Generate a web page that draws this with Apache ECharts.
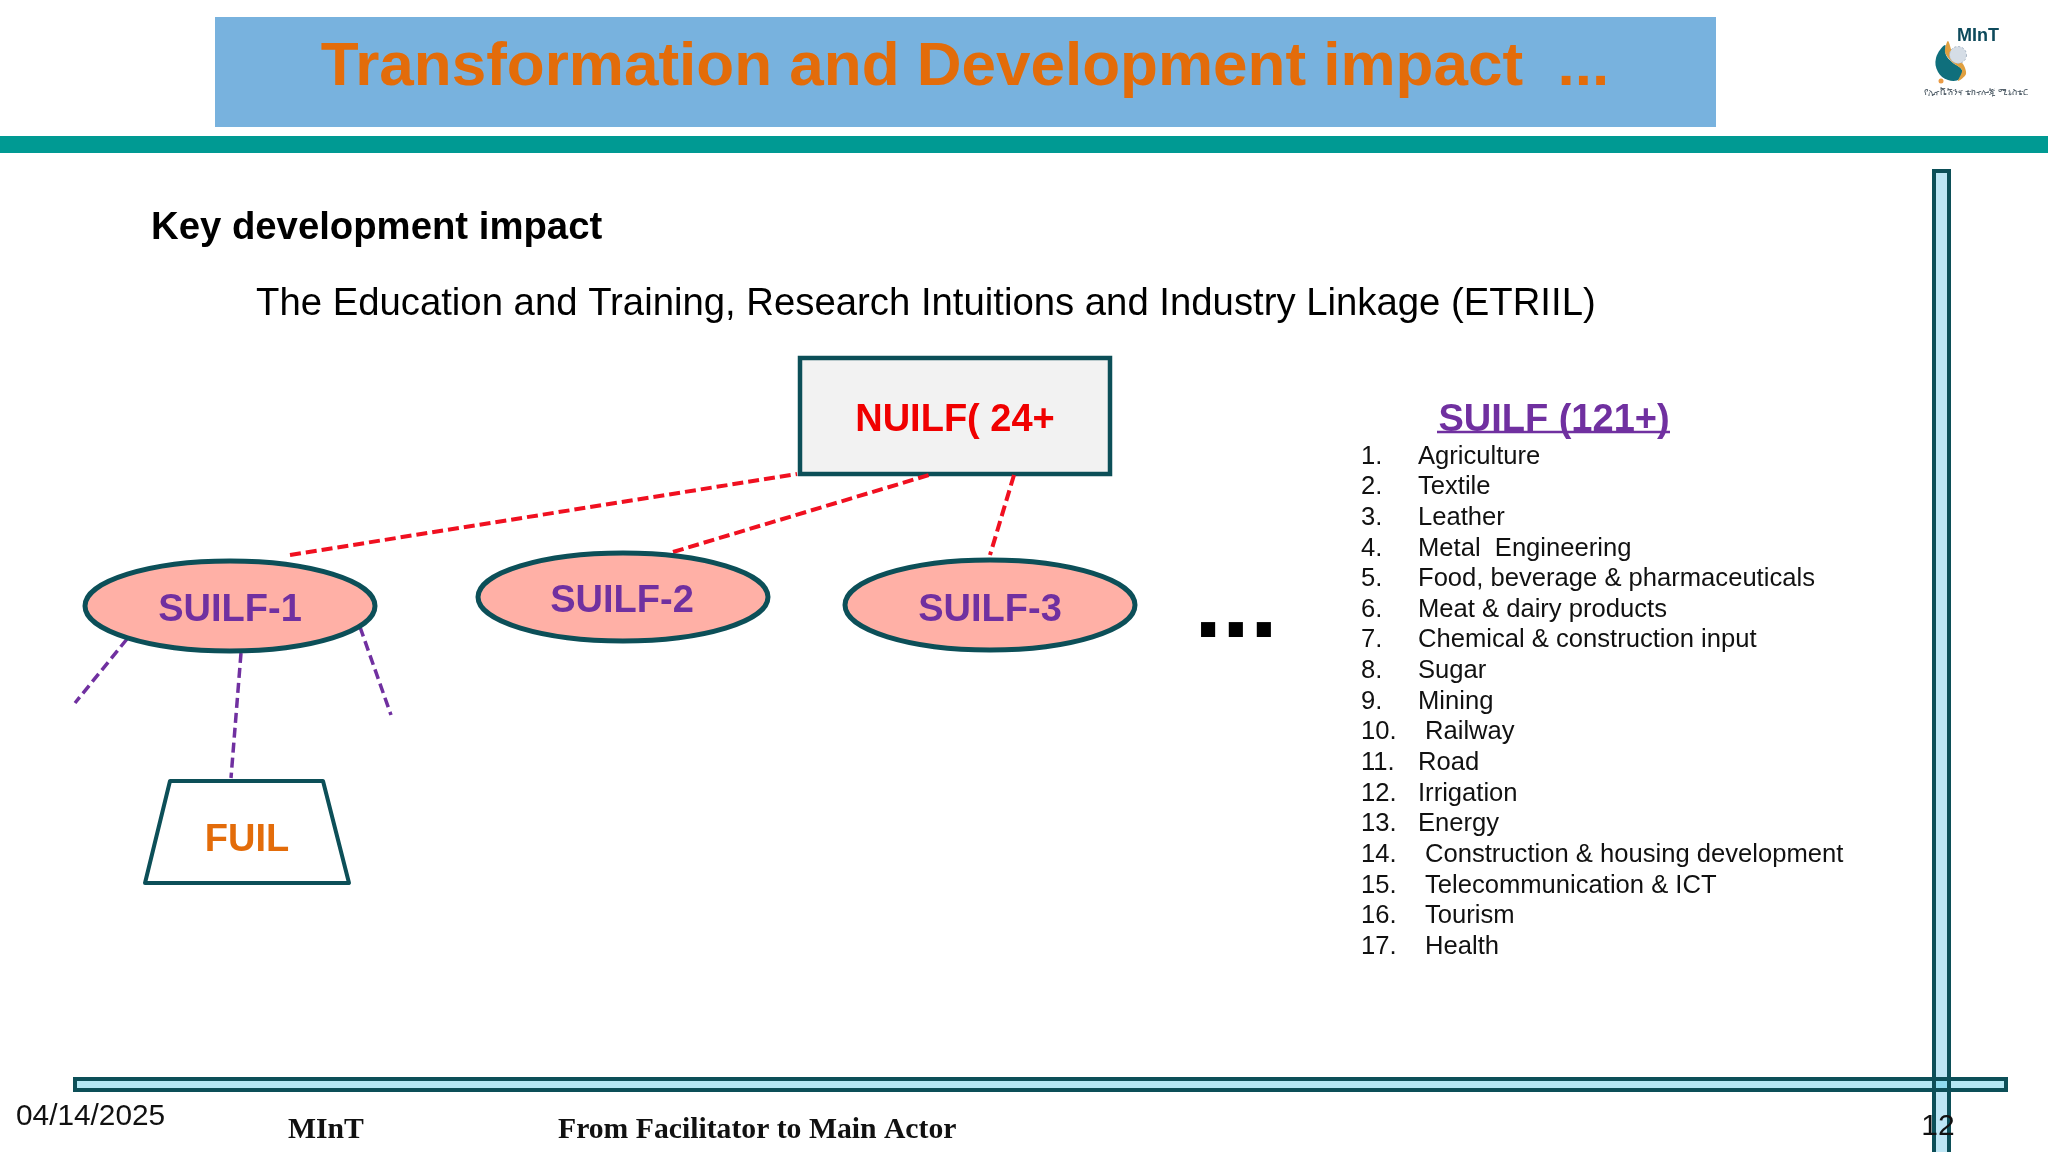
<!DOCTYPE html>
<html>
<head>
<meta charset="utf-8">
<style>html,body{margin:0;padding:0;background:#fff}#main{width:2048px;height:1152px}</style>
<script src="https://cdn.jsdelivr.net/npm/echarts@6/dist/echarts.min.js"></script>
</head>
<body>
<div id="main"></div>
<script>
// text content
var slideTitle = 'Transformation and Development impact  ...';
var sectionTitle = 'Key development impact';
var subTitle = 'The Education and Training, Research Intuitions and Industry Linkage (ETRIIL)';
var topNode = 'NUILF( 24+';
var suilfNodes = ['SUILF-1', 'SUILF-2', 'SUILF-3'];
var fuilNode = 'FUIL';
var listTitle = 'SUILF (121+)';
var industries = ['Agriculture', 'Textile', 'Leather', 'Metal  Engineering', 'Food, beverage & pharmaceuticals',
  'Meat & dairy products', 'Chemical & construction input', 'Sugar', 'Mining', 'Railway', 'Road', 'Irrigation',
  'Energy', 'Construction & housing development', 'Telecommunication & ICT', 'Tourism', 'Health'];
var indentedRows = [10, 14, 15, 16, 17];
var footerDate = '04/14/2025';
var footerOrg = 'MInT';
var footerMotto = 'From Facilitator to Main Actor';
var pageNumber = '12';
var logoCaption = 'የኢኖቬሽንና ቴክኖሎጂ ሚኒስቴር';

var TEAL = '#0c4f58';
var ORANGE = '#e36c0a';
var PURPLE = '#7030a0';
var RED = '#f01020';
var SANS = '"Liberation Sans", Arial, sans-serif';
var SERIF = '"Liberation Serif", "Times New Roman", serif';

// [x, y, width, height, fill, stroke, strokeWidth]
var boxes = [
  [215, 17, 1501, 110, '#78b2de', null, 0],
  [0, 136, 2048, 17, '#009a93', null, 0],
  [1934, 171, 15, 990, '#bde6f5', TEAL, 4],
  [75, 1079, 1931, 11, '#b4e8f5', TEAL, 4],
  // where the two bars cross, both outlines show
  [1936, 1081, 11, 7, '#8edcf0', null, 0],
  [1932, 1077, 4, 15, TEAL, null, 0],
  [1947, 1077, 4, 15, TEAL, null, 0],
  [800, 358, 310, 116, '#f2f2f2', TEAL, 4.5]
];
// [cx, cy, rx, ry]
var ellipses = [[230, 606, 145, 45], [623, 597, 145, 44], [990, 605, 145, 45]];
// [x1, y1, x2, y2, colour, width, dash]
var links = [
  [290, 555, 797, 474, RED, 4, [11, 5]],
  [673, 552, 929, 475, RED, 4, [11, 5]],
  [1014, 475, 990, 555, RED, 4, [11, 5]],
  [127, 639, 75, 703, PURPLE, 3.5, [10, 5]],
  [241, 653, 231, 778, PURPLE, 3.5, [10, 5]],
  [360, 627, 391, 715, PURPLE, 3.5, [10, 5]]
];
var trapezoid = [[170, 781], [323, 781], [349, 883], [145, 883]];

// x, y, string, colour, font, align
var labels = [
  [965, 68, slideTitle, ORANGE, 'bold 62px ' + SANS, 'center'],
  [151, 228, sectionTitle, '#000', 'bold 38.3px ' + SANS, 'left'],
  [256, 304, subTitle, '#000', '38.3px ' + SANS, 'left'],
  [955, 421, topNode, '#f00000', 'bold 38px ' + SANS, 'center'],
  [230, 611, suilfNodes[0], PURPLE, 'bold 38px ' + SANS, 'center'],
  [622, 602, suilfNodes[1], PURPLE, 'bold 38px ' + SANS, 'center'],
  [990, 611, suilfNodes[2], PURPLE, 'bold 38px ' + SANS, 'center'],
  [247, 841, fuilNode, ORANGE, 'bold 38px ' + SANS, 'center'],
  [1236, 609, '...', '#000', 'bold 100px ' + SANS, 'center'],
  [1554, 421, listTitle, PURPLE, 'bold 38px ' + SANS, 'center'],
  [16, 1117, footerDate, '#111', '29.8px ' + SANS, 'left'],
  [288, 1130, footerOrg, '#111', 'bold 29.7px ' + SERIF, 'left'],
  [558, 1130, footerMotto, '#111', 'bold 29.7px ' + SERIF, 'left'],
  [1938, 1127, pageNumber, '#111', '30px ' + SANS, 'center'],
  [1978, 36, footerOrg, '#0e4a5c', 'bold 18px ' + SANS, 'center'],
  [1976, 92, logoCaption, '#55626c', '9.3px "Noto Sans", "DejaVu Sans", sans-serif', 'center']
];
industries.forEach(function (name, i) {
  var y = 456.5 + i * 30.65;
  var indent = indentedRows.indexOf(i + 1) >= 0 ? 7 : 0;
  labels.push([1361, y, (i + 1) + '.', '#111', '25.6px ' + SANS, 'left']);
  labels.push([1418 + indent, y, name, '#111', '25.6px ' + SANS, 'left']);
});

function rowData(rows) {
  return rows.map(function (r, i) { return [r[0], r[1], i]; });
}

var option = {
  animation: false,
  backgroundColor: '#ffffff',
  grid: { left: 0, right: 0, top: 0, bottom: 0 },
  xAxis: { type: 'value', min: 0, max: 2048, show: false },
  yAxis: { type: 'value', min: 0, max: 1152, inverse: true, show: false },
  series: [{
    type: 'custom',
    silent: true,
    z: 1,
    data: rowData(boxes),
    renderItem: function (params, api) {
      var b = boxes[api.value(2)];
      var p = api.coord([b[0], b[1]]);
      var s = api.size([b[2], b[3]]);
      return {
        type: 'rect',
        shape: { x: p[0], y: p[1], width: s[0], height: s[1] },
        style: { fill: b[4], stroke: b[5], lineWidth: b[6] }
      };
    }
  }, {
    type: 'custom',
    silent: true,
    z: 2,
    data: rowData(links),
    renderItem: function (params, api) {
      var l = links[api.value(2)];
      var a = api.coord([l[0], l[1]]);
      var b = api.coord([l[2], l[3]]);
      return {
        type: 'line',
        shape: { x1: a[0], y1: a[1], x2: b[0], y2: b[1] },
        style: { stroke: l[4], lineWidth: l[5], lineDash: l[6], fill: null }
      };
    }
  }, {
    type: 'custom',
    silent: true,
    z: 3,
    data: rowData(ellipses),
    renderItem: function (params, api) {
      var e = ellipses[api.value(2)];
      var c = api.coord([e[0], e[1]]);
      var s = api.size([e[2], e[3]]);
      return {
        type: 'ellipse',
        shape: { cx: c[0], cy: c[1], rx: s[0], ry: s[1] },
        style: { fill: '#ffb0a6', stroke: TEAL, lineWidth: 5 }
      };
    }
  }, {
    type: 'custom',
    silent: true,
    z: 3,
    data: [[0, 0, 0]],
    renderItem: function (params, api) {
      return {
        type: 'polygon',
        shape: { points: trapezoid.map(function (p) { return api.coord(p); }) },
        style: { fill: '#fff', stroke: TEAL, lineWidth: 4, lineJoin: 'round' }
      };
    }
  }, {
    type: 'custom',
    silent: true,
    z: 4,
    data: rowData(labels),
    renderItem: function (params, api) {
      var t = labels[api.value(2)];
      var p = api.coord([t[0], t[1]]);
      return {
        type: 'text',
        style: { x: p[0], y: p[1], text: t[2], fill: t[3], font: t[4], textAlign: t[5], textVerticalAlign: 'middle' }
      };
    }
  }],
  graphic: [
    // list title underline
    { type: 'line', z: 5, shape: { x1: 1437, y1: 432, x2: 1670, y2: 432 }, style: { stroke: PURPLE, lineWidth: 2.5 } },
    // logo: leaf, swoosh and dots
    { type: 'polygon', z: 5, shape: { points: [[1945, 45], [1936, 58], [1938, 72], [1948, 80], [1960, 79], [1962, 70], [1952, 62], [1946, 55]], smooth: 0.4 },
      style: { fill: '#0f6f7c' } },
    { type: 'polygon', z: 5, shape: { points: [[1948, 41], [1945, 52], [1952, 62], [1962, 70], [1958, 81], [1966, 74], [1963, 64], [1953, 54]], smooth: 0.3 },
      style: { fill: '#e0a040' } },
    { type: 'circle', z: 5, shape: { cx: 1958, cy: 55, r: 8.5 }, style: { fill: '#d5dde6', stroke: '#a9b6c6', lineWidth: 1, lineDash: [2, 2] } },
    { type: 'circle', z: 5, shape: { cx: 1941, cy: 81, r: 2.5 }, style: { fill: '#eb9b45' } }
  ]
};

var chart = echarts.init(document.getElementById('main'));
chart.setOption(option);
</script>
</body>
</html>
